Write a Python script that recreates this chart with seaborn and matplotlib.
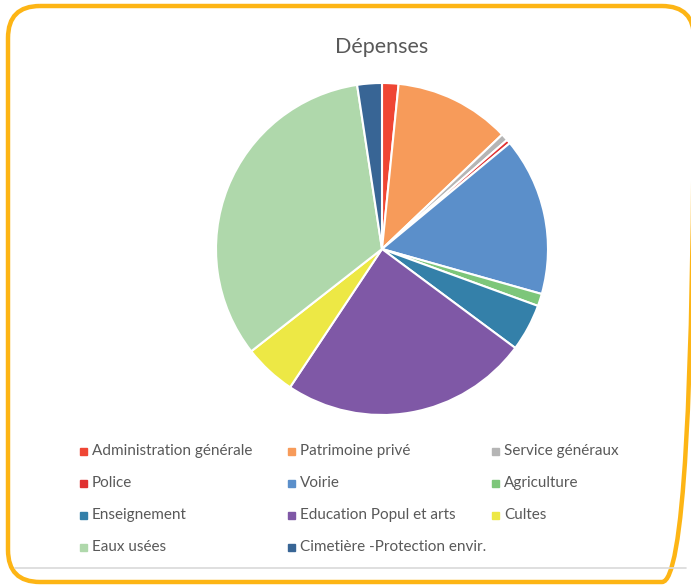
import matplotlib
matplotlib.use('Agg')
import matplotlib.pyplot as plt
import seaborn as sns
from matplotlib.patches import FancyBboxPatch, Rectangle

# Données (parts en %)
categories = ['Administration générale', 'Patrimoine privé', 'Service généraux',
              'Police', 'Voirie', 'Agriculture', 'Enseignement',
              'Education Popul et arts', 'Cultes', 'Eaux usées',
              'Cimetière -Protection envir.']
valeurs = [1.6, 11.3, 0.7, 0.4, 15.4, 1.2, 4.6, 24.2, 5.1, 33.2, 2.4]
couleurs = ['#EF4634', '#F79B5A', '#B5B5B5', '#E03131', '#5B8FCA', '#7DC67A',
            '#3480A9', '#7F58A6', '#EDE845', '#AFD8AB', '#386595']

sns.set_theme(style="white")
plt.rcParams['font.family'] = ['Lato', 'DejaVu Sans']

W, H = 691, 586
fig = plt.figure(figsize=(W / 100, H / 100), dpi=100)

# fond en coordonnées pixels
bg = fig.add_axes([0, 0, 1, 1])
bg.set_xlim(0, W)
bg.set_ylim(H, 0)
bg.axis('off')
bg.add_patch(FancyBboxPatch((8, 6), 686, 576,
                            boxstyle="round,pad=0,rounding_size=32",
                            fill=False, edgecolor='#FDB515', linewidth=3.2))
bg.plot([15, 686], [568, 568], color='#D9D9D9', linewidth=1.2)

# camembert
cx, cy, r = 382, 249, 166
ax = fig.add_axes([(cx - r) / W, 1 - (cy + r) / H, 2 * r / W, 2 * r / H])
wedges, _ = ax.pie(valeurs, colors=couleurs, startangle=90, counterclock=False,
                   wedgeprops={'edgecolor': 'white', 'linewidth': 1.5})
for w in wedges:
    w.set_clip_on(False)
ax.set_xlim(-1, 1)
ax.set_ylim(-1, 1)
ax.set_aspect('equal')
ax.axis('off')

bg.text(cx, 47, 'Dépenses', ha='center', va='center',
        fontsize=15.5, color='#595959')

# légende (3 colonnes, lecture par ligne)
col_x = [80, 288, 492]
row_y = [451, 483, 515, 547]
for i, (lab, c) in enumerate(zip(categories, couleurs)):
    x = col_x[i % 3]
    y = row_y[i // 3]
    bg.add_patch(Rectangle((x, y - 3.5), 7, 7, color=c))
    bg.text(x + 12, y, lab, ha='left', va='center',
            fontsize=11, color='#595959')

fig.savefig('out.png', dpi=100)
